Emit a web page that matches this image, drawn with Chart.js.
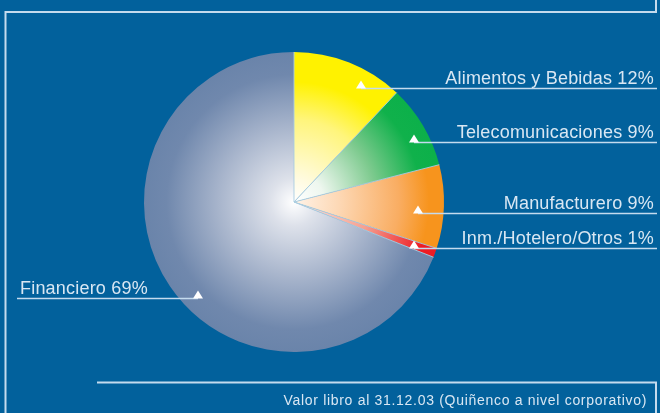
<!DOCTYPE html>
<html>
<head>
<meta charset="utf-8">
<script src="https://cdn.jsdelivr.net/npm/chart.js@4/dist/chart.umd.min.js"></script>
<style>
    html, body { margin: 0; padding: 0; background: #02619c; }
    canvas { display: block; }
</style>
</head>
<body>
<canvas id="chart" width="660" height="413"></canvas>
<script>
    'use strict';

    // Data
    const sectors = ['Alimentos y Bebidas', 'Telecomunicaciones', 'Manufacturero', 'Inm./Hotelero/Otros', 'Financiero'];
    const shares = [12, 9, 9, 1, 69];
    const footnote = 'Valor libro al 31.12.03 (Quiñenco a nivel corporativo)';

    // Styling
    const BG = '#02619c';
    const LINE = '#c4dbee';
    const TEXT = '#d9e7f3';
    const FONT = '"Liberation Sans", Arial, sans-serif';

    const gradientStops = [
        [[0, '#ffffff'], [0.15, '#fffbe2'], [0.55, '#fff57c'], [0.8, '#fff200'], [1, '#fff200']],
        [[0, '#ffffff'], [0.2, '#eef7ef'], [0.55, '#7dca8e'], [0.85, '#10b14b'], [1, '#0cb04a']],
        [[0, '#fff3e8'], [0.3, '#fdd8b5'], [0.7, '#f9ad62'], [0.9, '#f7941d'], [1, '#f7941d']],
        [[0, '#fde8e0'], [0.5, '#f6a090'], [0.9, '#ed1c24'], [1, '#ed1c24']],
        [[0, '#ffffff'], [0.16, '#dde1ea'], [0.5, '#a8b5cc'], [0.85, '#7088ad'], [1, '#6a84aa']]
    ];

    // where each leader line sits inside its slice: fraction of the slice angle, fraction of the radius
    const anchors = [
        { t: 0.71, r: 0.88, side: 'right' },
        { t: 0.62, r: 0.895, side: 'right' },
        { t: 0.60, r: 0.83, side: 'right' },
        { t: 0.83, r: 0.857, side: 'right' },
        { t: 0.456, r: 0.907, side: 'left' }
    ];

    const sliceFill = (ctx) => {
        const area = ctx.chart.chartArea;
        const stops = gradientStops[ctx.dataIndex];
        if ( ! area ) {
            return stops[stops.length - 1][1];
        }
        const cx = (area.left + area.right) / 2;
        const cy = (area.top + area.bottom) / 2;
        const r = Math.min(area.right - area.left, area.bottom - area.top) / 2;
        const g = ctx.chart.ctx.createRadialGradient(cx, cy, 0, cx, cy, r);
        stops.forEach(([o, c]) => g.addColorStop(o, c));
        return g;
    };

    const backdrop = {
        id: 'backdrop',
        beforeDraw(chart) {
            const c = chart.ctx;
            c.save();
            c.fillStyle = BG;
            c.fillRect(0, 0, chart.width, chart.height);

            c.strokeStyle = LINE;
            c.lineWidth = 2;
            // upper frame
            c.beginPath();
            c.moveTo(5.5, chart.height);
            c.lineTo(5.5, 12);
            c.lineTo(656, 12);
            c.lineTo(656, 0);
            c.stroke();
            // footnote box
            c.beginPath();
            c.moveTo(97, 382.5);
            c.lineTo(656, 382.5);
            c.lineTo(656, chart.height);
            c.stroke();

            c.fillStyle = TEXT;
            c.font = '14px ' + FONT;
            c.letterSpacing = '0.7px';
            c.textAlign = 'right';
            c.textBaseline = 'alphabetic';
            c.fillText(footnote, 647, 405);
            c.restore();
        }
    };

    const leaders = {
        id: 'leaders',
        afterDatasetsDraw(chart) {
            const c = chart.ctx;
            const arcs = chart.getDatasetMeta(0).data;
            c.save();

            // thin seams between slices
            c.strokeStyle = 'rgba(170, 205, 225, 0.9)';
            c.lineWidth = 1;
            arcs.forEach((arc) => {
                c.beginPath();
                c.moveTo(arc.x, arc.y);
                c.lineTo(arc.x + Math.cos(arc.startAngle) * arc.outerRadius,
                         arc.y + Math.sin(arc.startAngle) * arc.outerRadius);
                c.stroke();
            });

            c.font = '18px ' + FONT;
            c.letterSpacing = '0.2px';
            c.textBaseline = 'alphabetic';
            arcs.forEach((arc, i) => {
                const a = anchors[i];
                const ang = arc.startAngle + a.t * (arc.endAngle - arc.startAngle);
                const x = Math.round(arc.x + Math.cos(ang) * a.r * arc.outerRadius);
                const y = Math.round(arc.y + Math.sin(ang) * a.r * arc.outerRadius) + 0.5;
                const label = sectors[i] + ' ' + shares[i] + '%';

                c.strokeStyle = LINE;
                c.lineWidth = 1.5;
                c.beginPath();
                c.moveTo(x, y);
                c.lineTo(a.side === 'right' ? 657 : 17, y);
                c.stroke();

                c.fillStyle = '#ffffff';
                c.beginPath();
                c.moveTo(x - 5, y);
                c.lineTo(x + 5, y);
                c.lineTo(x, y - 8);
                c.closePath();
                c.fill();

                c.fillStyle = TEXT;
                if ( a.side === 'right' ) {
                    c.textAlign = 'right';
                    c.fillText(label, 654, y - 5);
                } else {
                    c.textAlign = 'left';
                    c.fillText(label, 20, y - 5);
                }
            });
            c.restore();
        }
    };

    new Chart(document.getElementById('chart'), {
        type: 'pie',
        data: {
            labels: sectors,
            datasets: [{
                data: shares,
                backgroundColor: sliceFill,
                borderWidth: 0
            }]
        },
        options: {
            responsive: false,
            animation: false,
            layout: {
                padding: { top: 52, right: 216, bottom: 61, left: 144 }
            },
            plugins: {
                legend: { display: false },
                tooltip: { enabled: false }
            }
        },
        plugins: [backdrop, leaders]
    });
</script>
</body>
</html>
